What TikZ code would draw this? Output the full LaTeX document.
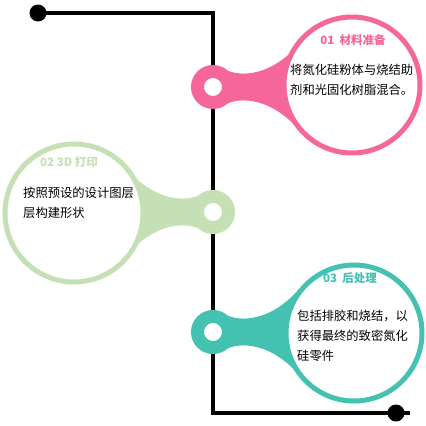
\documentclass[tikz,border=0pt]{standalone}
\usepackage{fontspec}
\newfontfamily\cjk{Noto Sans CJK SC}
\usetikzlibrary{positioning}
\usetikzlibrary{backgrounds}
\definecolor{pinkc}{HTML}{F5679A}
\definecolor{greenc}{HTML}{C5E0B4}
\definecolor{tealc}{HTML}{45C1B2}
\newcommand\neck[3]{\fill[#2,shift={(#1.center)},xscale=#3] (9,-20) .. controls (20,-10) and (55,-7) .. (86,-43) -- (96,-30) -- (96,30) -- (86,43) .. controls (55,7) and (20,10) .. (9,20) -- cycle;}

\begin{document}
\begin{tikzpicture}[x=1pt,y=-1pt,
 dot/.style={circle,fill=black,minimum size=17pt,inner sep=0pt},
 hub/.style={circle,draw=#1,fill=white,line width=13pt,minimum size=31pt,inner sep=0pt,outer sep=0pt},
 bubble/.style={circle,draw=#1,fill=white,line width=5pt,minimum size=136pt,inner sep=0pt},
 title/.style={text=#1,inner sep=0pt,font=\cjk\bfseries\fontsize{11.5}{14}\selectfont},
 body/.style={anchor=west,align=left,inner sep=0pt,font=\cjk\fontsize{12.3}{20}\selectfont}]
 \useasboundingbox (0,0) rectangle (426,426);
 \node[dot] (start) at (38,13) {};
 \node[dot] (end) at (396,413) {};
 \coordinate (tail) at (410,413);
 % hubs on the line
 \node[hub=pinkc] (h1) at (213,87) {};
 \node[hub=greenc] (h2) at (213,212) {};
 \node[hub=tealc] (h3) at (213,332) {};
 \neck{h1}{pinkc}{1}
 \neck{h2}{greenc}{-1}
 \neck{h3}{tealc}{1}
 % bubbles
 \node[bubble=pinkc] (b1) at (352,85) {};
 \node[bubble=greenc,minimum size=138pt] (b2) at (74,213) {};
 \node[bubble=tealc] (b3) at (354,333) {};
 \node[title=pinkc] (t1) at ([shift={(1,-45)}]b1.center) {01\ \ 材料准备};
 \node[body] (d1) at ([shift={(-62,-5)}]b1.center) {将氮化硅粉体与烧结助\\剂和光固化树脂混合。};
 \node[title=greenc] (t2) at ([shift={(-5,-51)}]b2.center) {02 3D 打印};
 \node[body] (d2) at ([shift={(-51,-10)}]b2.center) {按照预设的设计图层\\层构建形状};
 \node[title=tealc] (t3) at ([shift={(-4,-55)}]b3.center) {03\ \ 后处理};
 \node[body] (d3) at ([shift={(-57,3)}]b3.center) {包括排胶和烧结，以\\获得最终的致密氮化\\硅零件};
 \begin{scope}[on background layer]
  \draw[line width=4pt] (start.center) -| (h1.center) -- (h3.center) |- (tail);
 \end{scope}
\end{tikzpicture}
\end{document}
